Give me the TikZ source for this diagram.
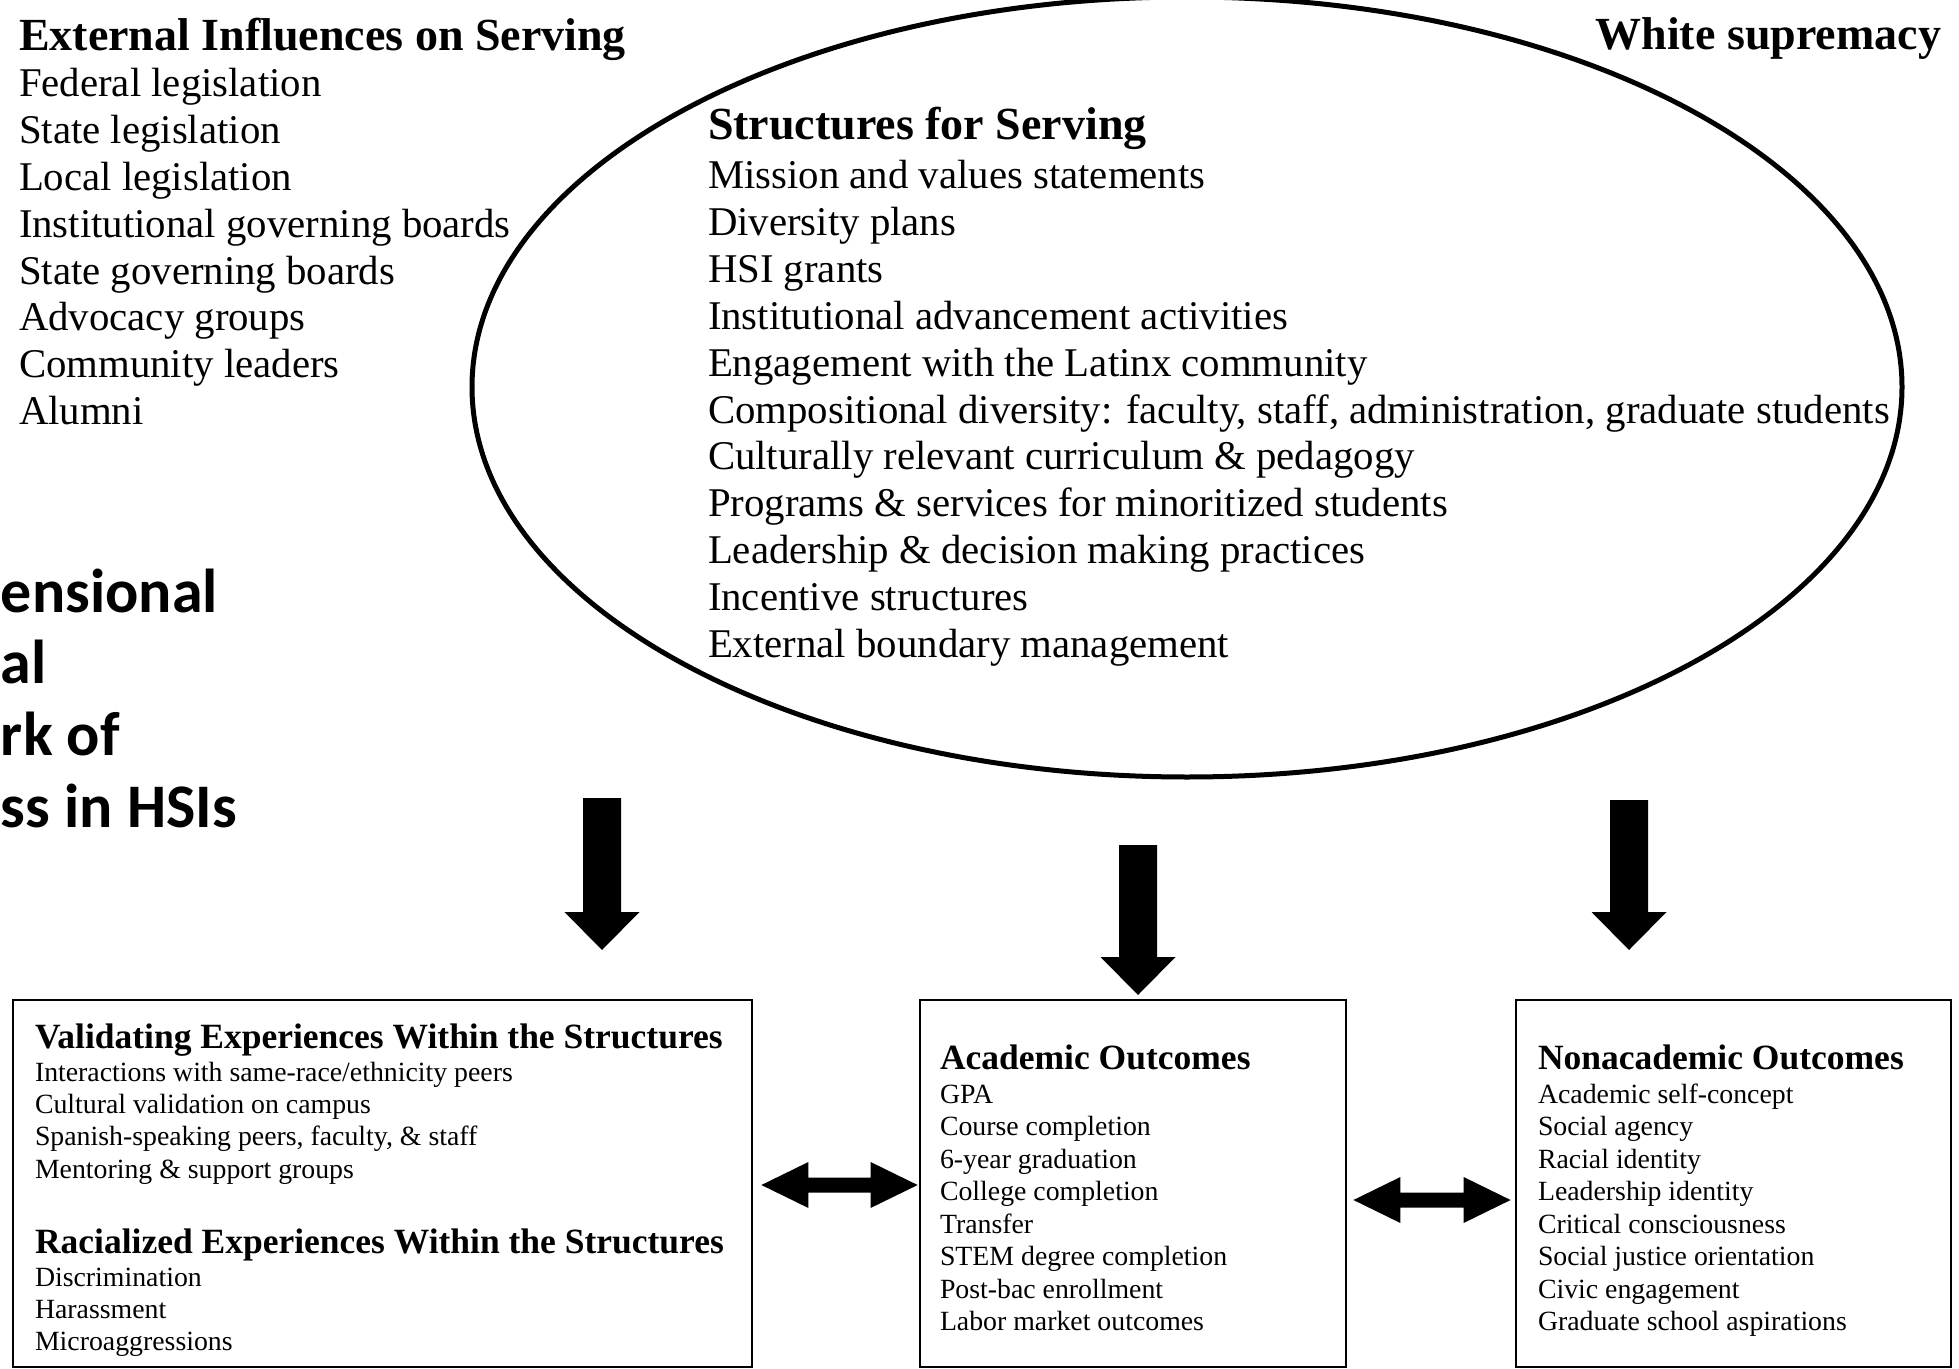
\documentclass[tikz,border=0pt]{standalone}
\usepackage{fontspec}
\setmainfont{Liberation Serif}
\newfontfamily\calibri{Carlito}
\usetikzlibrary{calc,shapes.geometric}

% fat downward block arrow: #1 = top of shaft, #2 = tip
\newcommand\FatDown[2]{%
  \fill ($(#1)+(-19,0)$) -- ($(#1)+(19,0)$) -- ($(#2)+(19,-38)$) -- ($(#2)+(37.5,-38)$)
    -- (#2) -- ($(#2)+(-37.5,-38)$) -- ($(#2)+(-19,-38)$) -- cycle;}
% horizontal double-headed block arrow: #1 = left tip, #2 = right tip
\newcommand\DblArrow[2]{%
  \fill (#1) -- ($(#1)+(47,-23)$) -- ($(#1)+(47,-7.5)$) -- ($(#2)+(-47,-7.5)$)
    -- ($(#2)+(-47,-23)$) -- (#2) -- ($(#2)+(-47,23)$) -- ($(#2)+(-47,7.5)$)
    -- ($(#1)+(47,7.5)$) -- ($(#1)+(47,23)$) -- cycle;}

\begin{document}
\begin{tikzpicture}[x=0.5pt,y=-0.5pt,
  txt/.style={inner sep=0pt, outer sep=0pt, anchor=base west},
  bigbody/.style={txt, font=\fontsize{20.4pt}{23.4pt}\selectfont},
  bighead/.style={txt, font=\fontsize{23pt}{26pt}\selectfont\bfseries},
  smallbody/.style={txt, font=\fontsize{13.9pt}{16pt}\selectfont},
  smallhead/.style={txt, font=\fontsize{17.75pt}{20pt}\selectfont\bfseries},
  titletxt/.style={inner sep=0pt, outer sep=0pt, anchor=base west, font=\calibri\bfseries\fontsize{31pt}{36pt}\selectfont},
  outbox/.style={draw, line width=1.4pt, inner sep=0pt, minimum height=183.5pt},
  ring/.style={draw, ellipse, line width=2.5pt, inner sep=0pt, minimum width=715pt, minimum height=390pt}
]
\fill[white] (0,0) rectangle (1959,1369);
\useasboundingbox (0,0) rectangle (1959,1369);

% ---------- ellipse ----------
\node[ring] (ell) at (1187,387) {};

% ---------- external influences ----------
\node[bighead] (exthead) at (19,51) {External Influences on Serving};
\foreach \t [count=\i] in {Federal legislation, State legislation, Local legislation,
  Institutional governing boards, State governing boards, Advocacy groups,
  Community leaders, Alumni}
  \node[bigbody] (ext\i) at (19,{96.5+(\i-1)*46.9}) {\t};

\node[bighead, anchor=base east] (white) at (1941,50) {White supremacy};

% ---------- structures ----------
\node[bighead] (strhead) at (708,140) {Structures for Serving};
\foreach \t [count=\i] in {Mission and values statements, Diversity plans, HSI grants,
  Institutional advancement activities, Engagement with the Latinx community,
  {Compositional diversity: faculty, staff, administration, graduate students},
  Culturally relevant curriculum \& pedagogy,
  Programs \& services for minoritized students,
  Leadership \& decision making practices, Incentive structures,
  External boundary management}
  \node[bigbody] (str\i) at (708,{188.5+(\i-1)*46.9}) {\t};

% ---------- title fragments ----------
\node[titletxt] (ti1) at (1,612) {ensional};
\node[titletxt] (ti2) at (1,683) {al};
\node[titletxt] (ti3) at (1,755) {rk of};
\node[titletxt] (ti4) at (1,827) {ss in HSIs};

% ---------- boxes ----------
\node[outbox, minimum width=369.5pt] (lbox) at (382.5,1183.5) {};
\node[outbox, minimum width=213pt] (mbox) at (1133,1183.5) {};
\node[outbox, minimum width=217.5pt] (rbox) at (1733.5,1183.5) {};

\node[smallhead] (valhead) at (35,1048) {Validating Experiences Within the Structures};
\foreach \t [count=\i] in {Interactions with same-race/ethnicity peers,
  Cultural validation on campus, {Spanish-speaking peers, faculty, \& staff},
  Mentoring \& support groups}
  \node[smallbody] (val\i) at (35,{1081+(\i-1)*32.4}) {\t};
\node[smallhead] (rachead) at (35,1253) {Racialized Experiences Within the Structures};
\foreach \t [count=\i] in {Discrimination, Harassment, Microaggressions}
  \node[smallbody] (rac\i) at (35,{1286+(\i-1)*32}) {\t};

\node[smallhead] (acahead) at (940,1069) {Academic Outcomes};
\foreach \t [count=\i] in {GPA, Course completion, 6-year graduation, College completion,
  Transfer, STEM degree completion, Post-bac enrollment, Labor market outcomes}
  \node[smallbody] (aca\i) at (940,{1103+(\i-1)*32.5}) {\t};

\node[smallhead] (nonhead) at (1538,1069) {Nonacademic Outcomes};
\foreach \t [count=\i] in {Academic self-concept, Social agency, Racial identity,
  Leadership identity, Critical consciousness, Social justice orientation,
  Civic engagement, Graduate school aspirations}
  \node[smallbody] (non\i) at (1538,{1103+(\i-1)*32.5}) {\t};

% ---------- arrows ----------
\coordinate (dl1) at (602,798);  \coordinate (dl2) at (602,950);
\coordinate (dm1) at (1138,845); \coordinate (dm2) at (1138,995);
\coordinate (dr1) at (1629,800); \coordinate (dr2) at (1629,950);
\FatDown{dl1}{dl2}
\FatDown{dm1}{dm2}
\FatDown{dr1}{dr2}

\coordinate (hl1) at ($(lbox.east |- 0,1185)+(8,0)$);
\coordinate (hl2) at ($(mbox.west |- 0,1185)+(-1,0)$);
\coordinate (hr1) at ($(mbox.east |- 0,1200)+(6,0)$);
\coordinate (hr2) at ($(rbox.west |- 0,1200)+(-4,0)$);
\DblArrow{hl1}{hl2}
\DblArrow{hr1}{hr2}
\end{tikzpicture}
\end{document}
